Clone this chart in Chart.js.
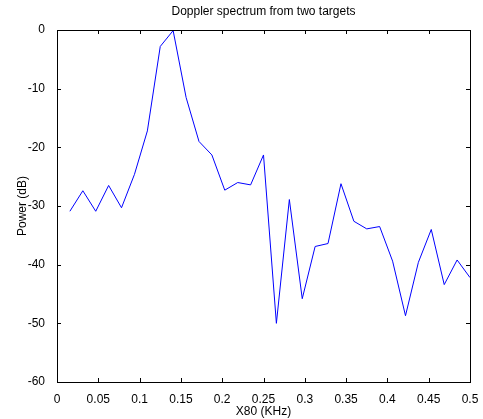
<!DOCTYPE html>
<html>
<head>
<meta charset="utf-8">
<script src="https://cdn.jsdelivr.net/npm/chart.js@4/dist/chart.umd.min.js"></script>
<style>
  html, body { margin: 0; padding: 0; background: #fff; }
  #wrap { width: 483px; height: 419px; }
</style>
</head>
<body>
<div id="wrap"><canvas id="dopplerChart" width="483" height="419"></canvas></div>
<script>
// frequency bins (KHz)
const freqs = [0.0156, 0.0313, 0.0469, 0.0625, 0.0781, 0.0938, 0.1094, 0.125,
               0.1406, 0.1563, 0.1719, 0.1875, 0.2031, 0.2188, 0.2344, 0.25,
               0.2656, 0.2813, 0.2969, 0.3125, 0.3281, 0.3438, 0.3594, 0.375,
               0.3906, 0.4063, 0.4219, 0.4375, 0.4531, 0.4688, 0.4844, 0.5];
// power (dB)
const power = [-30.9, -27.4, -30.9, -26.5, -30.3, -24.6, -17.2, -2.8,
               -0.1, -11.5, -19.0, -21.3, -27.3, -26.0, -26.4, -21.3,
               -50.0, -28.9, -45.8, -36.9, -36.4, -26.2, -32.6, -33.9,
               -33.5, -39.4, -48.7, -39.6, -34.0, -43.4, -39.2, -42.2];
const xTicks = [0, 0.05, 0.1, 0.15, 0.2, 0.25, 0.3, 0.35, 0.4, 0.45, 0.5];
const yTicks = [0, -10, -20, -30, -40, -50, -60];

const fontName = '"Liberation Sans", Arial, sans-serif';

// matlab style box with inward ticks on all four sides
const boxTicks = {
  id: 'boxTicks',
  afterDraw(chart) {
    const c = chart.ctx, a = chart.chartArea;
    const xs = chart.scales.x, ys = chart.scales.y;
    const len = 4;
    c.save();
    c.strokeStyle = '#000';
    c.lineWidth = 1;
    c.beginPath();
    xTicks.forEach(v => {
      const px = Math.round(xs.getPixelForValue(v)) + 0.5;
      c.moveTo(px, a.bottom); c.lineTo(px, a.bottom - len);
      c.moveTo(px, a.top); c.lineTo(px, a.top + len);
    });
    yTicks.forEach(v => {
      const py = Math.round(ys.getPixelForValue(v)) + 0.5;
      c.moveTo(a.left, py); c.lineTo(a.left + len, py);
      c.moveTo(a.right, py); c.lineTo(a.right - len, py);
    });
    c.stroke();
    c.strokeRect(Math.round(a.left) + 0.5, Math.round(a.top) + 0.5,
                 Math.round(a.right - a.left), Math.round(a.bottom - a.top));
    c.restore();
  }
};

new Chart(document.getElementById('dopplerChart').getContext('2d'), {
  type: 'line',
  data: {
    datasets: [{
      data: freqs.map((f, i) => ({ x: f, y: power[i] })),
      borderColor: '#0000ff',
      borderWidth: 1,
      pointRadius: 0,
      tension: 0,
      fill: false
    }]
  },
  options: {
    responsive: false,
    animation: false,
    layout: { padding: { left: 15, right: 13, top: 0, bottom: 0 } },
    plugins: {
      legend: { display: false },
      tooltip: { enabled: false },
      title: {
        display: true,
        fullSize: false,
        text: 'Doppler spectrum from two targets',
        color: '#000',
        font: { family: fontName, size: 12, weight: 'normal' },
        padding: { top: 4, bottom: 11.6 }
      }
    },
    scales: {
      x: {
        type: 'linear',
        min: 0, max: 0.5,
        afterBuildTicks: s => { s.ticks = xTicks.map(v => ({ value: v })); },
        afterFit: s => { s.height = 37; },
        grid: { display: false },
        border: { display: false },
        ticks: {
          color: '#000',
          padding: 2,
          maxRotation: 0,
          autoSkip: false,
          font: { family: fontName, size: 12 },
          callback: v => String(v)
        },
        title: {
          display: true,
          text: 'X80 (KHz)',
          color: '#000',
          padding: { top: 0, bottom: 0 },
          font: { family: fontName, size: 12 }
        }
      },
      y: {
        min: -60, max: 0,
        afterBuildTicks: s => { s.ticks = yTicks.map(v => ({ value: v })); },
        afterFit: s => { s.width = 42; },
        grid: { display: false },
        border: { display: false },
        ticks: {
          color: '#000',
          padding: 4,
          autoSkip: false,
          font: { family: fontName, size: 12 }
        },
        title: {
          display: true,
          text: 'Power (dB)',
          color: '#000',
          padding: { top: 0, bottom: 2 },
          font: { family: fontName, size: 12 }
        }
      }
    }
  },
  plugins: [boxTicks]
});
</script>
</body>
</html>
